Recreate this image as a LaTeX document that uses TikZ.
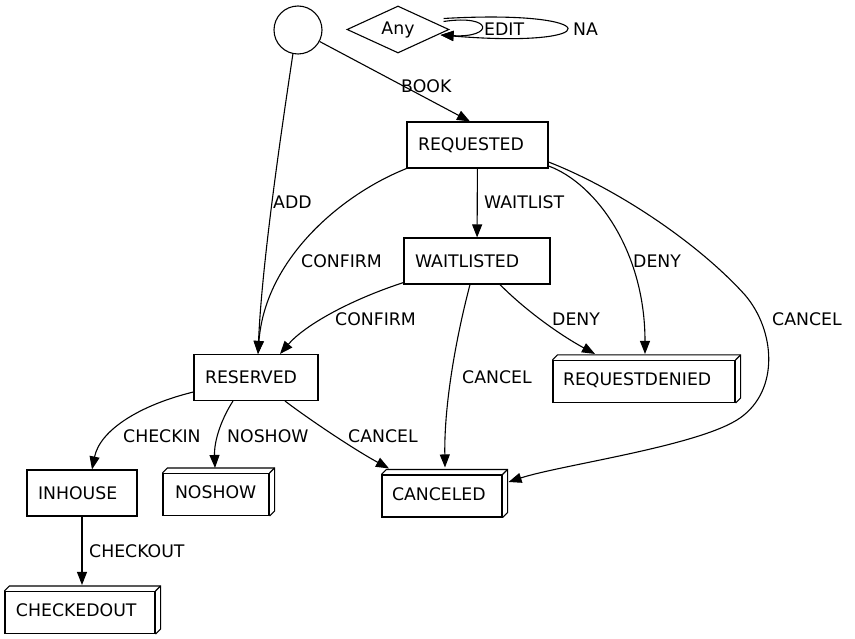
\documentclass[tikz,border=0pt]{standalone}
\usepackage{fontspec}
\setmainfont{DejaVu Sans}
\usetikzlibrary{arrows.meta,shapes.geometric,calc}
\newcommand\boxthreed[1]{%
  \draw[line width=1.1pt,line join=miter] (#1.north west) -- ++(5,-5) -- ($(#1.north east)+(5,-5)$) -- ($(#1.south east)+(5,-5)$) -- (#1.south east);
  \draw[line width=1.1pt] (#1.north east) -- ++(5,-5);}
\newcommand\uptxt[1]{\raisebox{4pt}{#1}}
\begin{document}
\begin{tikzpicture}[x=1pt,y=-1pt,
  every node/.style={font=\fontsize{17.3}{20}\selectfont},
  st/.style={draw,line width=1.1pt,rectangle,inner ysep=0pt,inner xsep=11pt,minimum height=46pt,align=left},
  fb/.style={draw,line width=1.1pt,rectangle,inner ysep=0pt,inner xsep=10pt,minimum height=42pt,align=left},
  arr/.style={line width=1.1pt,-{Triangle[length=13pt,width=10pt]}},
  lbl/.style={inner sep=0pt,anchor=west}]
\useasboundingbox (0,0) rectangle (855,639);
% nodes
\node[circle,draw,line width=1.1pt,minimum size=48pt,inner sep=0pt] (start) at (298,30) {};
\node[diamond,draw,line width=1.1pt,minimum width=102pt,minimum height=47pt,inner sep=0pt,aspect=2.2] (any) at (398,29.5) {Any};
\node[st,text width=119pt] (req) at (477.5,145) {REQUESTED};
\node[st,text width=124pt] (wait) at (477,261) {WAITLISTED};
\node[st,text width=102pt] (res) at (256,377.5) {RESERVED};
\node[st,text width=88pt] (inh) at (82,493) {INHOUSE};
\node[fb,text width=162pt] (rd) at (644,381.5) {\uptxt{REQUESTDENIED}};
\node[fb,inner xsep=12pt,text width=82pt] (nos) at (216,494.5) {\uptxt{NOSHOW}};
\node[fb,text width=100pt] (can) at (442,496) {\uptxt{CANCELED}};
\node[fb,inner xsep=11pt,text width=128pt] (co) at (80,612.5) {\uptxt{CHECKEDOUT}};
\boxthreed{rd}
\boxthreed{nos}
\boxthreed{can}
\boxthreed{co}
% self loops on Any
\draw[arr] ($(any.east)+(-6,-8)$) .. controls (494,14) and (494,38) .. ($(any.east)+(-9,5.5)$);
\draw[arr] ($(any.east)+(-6,-11)$) .. controls (608,9) and (608,49) .. ($(any.east)+(-9,5.5)$);
\node[lbl] (lEdit) at (484,29) {EDIT};
\node[lbl] (lNa) at (573,29) {NA};
% edges
\draw[arr] (start) -- ($(req.north)+(-7.5,0)$);
\node[lbl] (lBook) at (401,86) {BOOK};
\draw[arr] (start.258) .. controls (283,120) and (262,260) .. ($(res.north)+(2,0)$);
\node[lbl] (lAdd) at (273,202) {ADD};
\draw[arr] ($(req.south west)+(0,0)$) .. controls (340,195) and (265,260) .. ($(res.north)+(2,0)$);
\node[lbl] (lConf1) at (301,261) {CONFIRM};
\draw[arr] (req) -- (wait);
\node[lbl] (lWait) at (484,202) {WAITLIST};
\draw[arr] ($(req.east)+(0,21)$) .. controls (595,183) and (645,250) .. ($(rd.north)+(1,-6)$);
\node[lbl] (lDeny1) at (633,261) {DENY};
\draw[arr] ($(req.east)+(0,17)$) .. controls (620,190) and (700,245) .. (745,295) .. controls (775,330) and (780,390) .. (740,418) .. controls (700,446) and (560,465) .. ($(can.east)+(6,-14)$);
\node[lbl] (lCan1) at (772,319) {CANCEL};
\draw[arr] ($(wait.south west)+(0,-2)$) .. controls (350,300) and (305,325) .. ($(res.north)+(24,0)$);
\node[lbl] (lConf2) at (335,319) {CONFIRM};
\draw[arr] ($(wait.south)+(23,0)$) .. controls (525,310) and (560,335) .. ($(rd.north)+(-49,-6)$);
\node[lbl] (lDeny2) at (552,319) {DENY};
\draw[arr] ($(wait.south)+(-7,0)$) .. controls (458,330) and (444,400) .. ($(can.north)+(3,-7)$);
\node[lbl] (lCan2) at (462,377) {CANCEL};
\draw[arr] ($(res.west)+(0,14.5)$) .. controls (140,405) and (100,430) .. ($(inh.north)+(10,0)$);
\node[lbl] (lChin) at (123,436) {CHECKIN};
\draw[arr] ($(res.south)+(-23,0)$) .. controls (222,418) and (214,440) .. ($(nos.north)+(-1,-5)$);
\node[lbl] (lNos) at (227,436) {NOSHOW};
\draw[arr] ($(res.south)+(29,0)$) .. controls (310,420) and (355,450) .. ($(can.north)+(-53,-6)$);
\node[lbl] (lCan3) at (348,436) {CANCEL};
\draw[arr] (inh) -- ($(co.north)+(2,-6)$);
\node[lbl] (lChout) at (89,551) {CHECKOUT};
\end{tikzpicture}
\end{document}
